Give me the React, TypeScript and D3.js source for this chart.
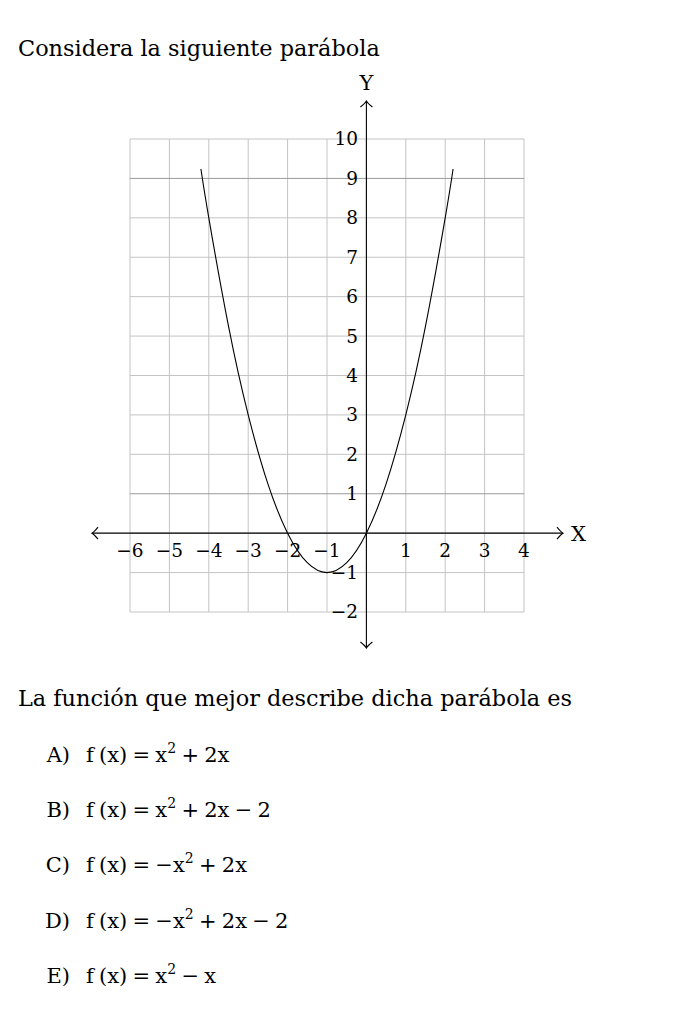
import React from "react";
import * as d3 from "d3";

// grid / tick values
const xTicks = [-6, -5, -4, -3, -2, -1, 1, 2, 3, 4];
const yTicks = [-2, -1, 1, 2, 3, 4, 5, 6, 7, 8, 9, 10];
const xGrid = [-6, -5, -4, -3, -2, -1, 0, 1, 2, 3, 4];
const yGrid = [-2, -1, 0, 1, 2, 3, 4, 5, 6, 7, 8, 9, 10];
const darkGrid = [1, 9];

// parabola points
const curveX = [-4.2, -4, -3.5, -3, -2.5, -2, -1.5, -1, -0.5, 0, 0.5, 1, 1.5, 2, 2.2];
const curveY = [9.24, 8, 5.25, 3, 1.25, 0, -0.75, -1, -0.75, 0, 1.25, 3, 5.25, 8, 9.24];

const optionLetters = ["A)", "B)", "C)", "D)", "E)"];
// [sign, tail] for  f(x) = sign x² tail
const optionSign = ["", "", "−", "−", ""];
const optionTail = ["+ 2x", "+ 2x − 2", "+ 2x", "+ 2x − 2", "− x"];

const FONT = "'DejaVu Serif', serif";
const SP = "\u2005";

const App = () => {
  const x = d3.scaleLinear().domain([-6, 4]).range([130, 524]);
  const y = d3.scaleLinear().domain([-2, 10]).range([612, 139]);
  const x0 = x(0);
  const y0 = y(0);

  const line = d3
    .line<number>()
    .x((d) => x(d))
    .y((_, i) => y(curveY[i]))
    .curve(d3.curveNatural);

  const arrow = (px: number, py: number, dir: string) => {
    const s = 6;
    if (dir === "r") return `M${px - s},${py - s} Q${px - 2},${py - 1} ${px},${py} Q${px - 2},${py + 1} ${px - s},${py + s}`;
    if (dir === "l") return `M${px + s},${py - s} Q${px + 2},${py - 1} ${px},${py} Q${px + 2},${py + 1} ${px + s},${py + s}`;
    if (dir === "u") return `M${px - s},${py + s} Q${px - 1},${py + 2} ${px},${py} Q${px + 1},${py + 2} ${px + s},${py + s}`;
    return `M${px - s},${py - s} Q${px - 1},${py - 2} ${px},${py} Q${px + 1},${py - 2} ${px + s},${py - s}`;
  };

  return (
    <svg
      width={687}
      height={1028}
      style={{ position: "absolute", left: 0, top: 0, background: "#fff" }}
      fontFamily={FONT}
    >
      <text x={18} y={56} fontSize={22.4}>
        Considera la siguiente parábola
      </text>

      {/* grid */}
      <g stroke="#c4c4c4" strokeWidth={1}>
        {xGrid.map((v) => (
          <line key={"gx" + v} x1={x(v)} x2={x(v)} y1={y(-2)} y2={y(10)} />
        ))}
        {yGrid.map((v) => (
          <line
            key={"gy" + v}
            x1={x(-6)}
            x2={x(4)}
            y1={y(v)}
            y2={y(v)}
            stroke={darkGrid.includes(v) ? "#9a9a9a" : "#c4c4c4"}
          />
        ))}
      </g>

      {/* axes */}
      <g stroke="#000" strokeWidth={1.1} fill="none">
        <line x1={92} x2={563} y1={y0} y2={y0} />
        <line x1={x0} x2={x0} y1={101} y2={648} />
        <path d={arrow(563, y0, "r")} />
        <path d={arrow(92, y0, "l")} />
        <path d={arrow(x0, 101, "u")} />
        <path d={arrow(x0, 648, "d")} />
      </g>
      <text x={x0} y={90} fontSize={21} textAnchor="middle">Y</text>
      <text x={571} y={541} fontSize={21}>X</text>

      {/* tick labels */}
      <g fontSize={18.5}>
        {xTicks.map((v) => (
          <text key={"tx" + v} x={x(v)} y={557} textAnchor="middle">
            {v < 0 ? "−" + Math.abs(v) : v}
          </text>
        ))}
        {yTicks.map((v) => (
          <text key={"ty" + v} x={358} y={y(v)} dy="0.35em" textAnchor="end">
            {v < 0 ? "−" + Math.abs(v) : v}
          </text>
        ))}
      </g>

      {/* parabola */}
      <path d={line(curveX) || ""} fill="none" stroke="#000" strokeWidth={1.1} />

      <text x={18} y={706} fontSize={22.4}>
        La función que mejor describe dicha parábola es
      </text>

      <g fontSize={21}>
        {optionLetters.map((l, i) => {
          const by = 762 + i * 55.2;
          return (
            <g key={l}>
              <text x={70} y={by} textAnchor="end">{l}</text>
              <text x={86} y={by} style={{ whiteSpace: "pre" }}>
                {"f" + SP + "(x)" + SP + "=" + SP + optionSign[i] + "x"}
                <tspan fontSize={14} dy={-9}>2</tspan>
                <tspan dy={9}>{SP + optionTail[i].replace(/ /g, SP)}</tspan>
              </text>
            </g>
          );
        })}
      </g>
    </svg>
  );
};

export default App;
